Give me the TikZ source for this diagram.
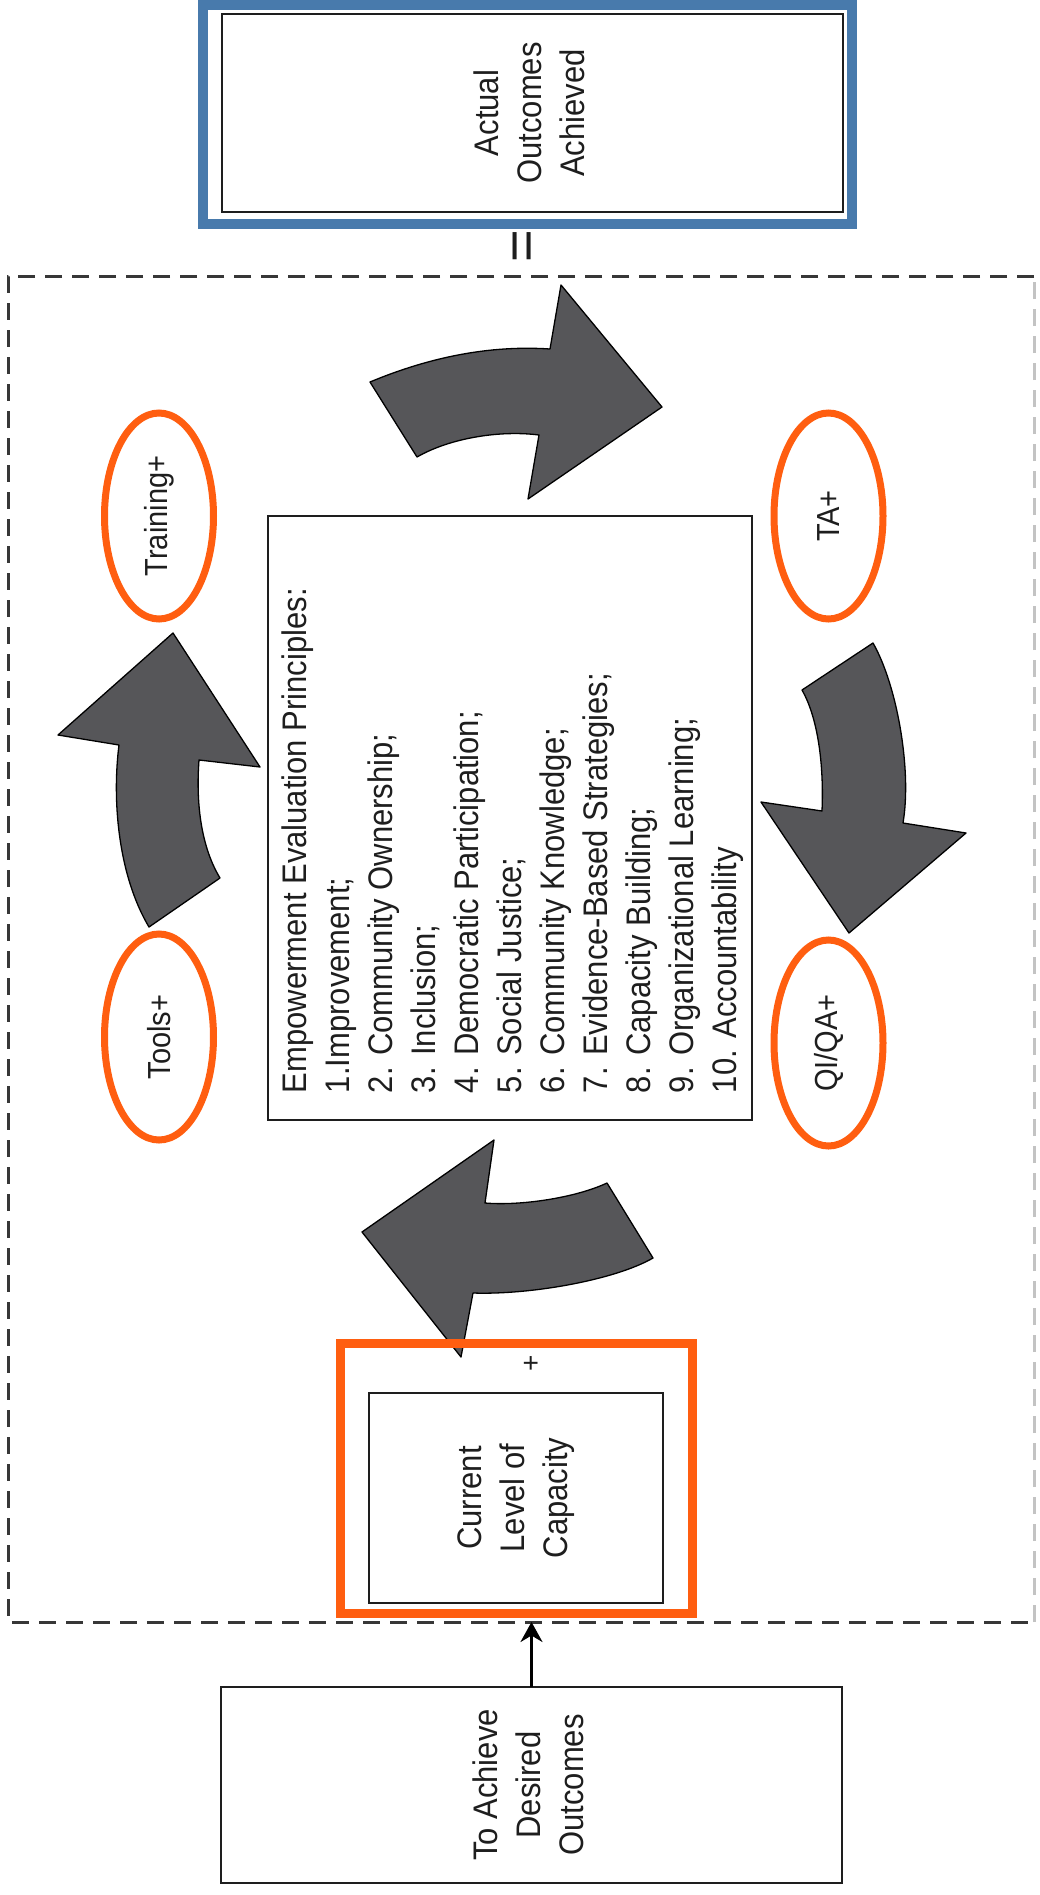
\documentclass[tikz,border=0pt]{standalone}
\usepackage{fontspec}
\setmainfont{Liberation Sans}
\usetikzlibrary{shapes.geometric,arrows.meta}
\definecolor{hlorange}{RGB}{255,94,16}
\definecolor{hlblue}{RGB}{72,122,172}
\definecolor{arrowgray}{RGB}{86,86,89}
\definecolor{inkc}{RGB}{30,30,30}
\definecolor{dashc}{RGB}{55,55,55}
\newcommand{\rotc}[1]{\rotatebox{90}{\scalebox{1}[1.1]{\begin{tabular}{@{}c@{}}#1\end{tabular}}}}
\newcommand{\rotl}[1]{\rotatebox{90}{\scalebox{1}[1.1]{\begin{tabular}{@{}l@{}}#1\end{tabular}}}}
\newcommand{\rots}[1]{\rotatebox{90}{\scalebox{1}[1.1]{#1}}}
\begin{document}
\begin{tikzpicture}[x=1pt,y=-1pt,
  every node/.style={inner sep=0pt, outer sep=0pt, text=inkc},
  txt/.style={font=\fontsize{31}{39.1}\selectfont},
  box/.style={draw=inkc, line width=2.2pt, rectangle, fill=white},
  oval/.style={draw=hlorange, line width=7pt, ellipse, minimum width=109pt, minimum height=206pt, font=\fontsize{29}{36}\selectfont},
  bigarrow/.style={fill=arrowgray, draw=black, line width=1.3pt, line join=round},
  dashline/.style={draw=dashc, line width=3pt, dash pattern=on 17pt off 10pt},
]
\useasboundingbox (0,0) rectangle (1039,1895);
\fill[white] (0,0) rectangle (1039,1895);

% dashed region
\node[minimum width=1026pt, minimum height=1346pt] (region) at (521,949) {};
\draw[dashline] (region.north east) -- (region.north west) -- (region.south west) -- (region.south east);
\draw[dashline, draw=dashc!30] (region.south east) -- (region.north east);

% top box
\node[box, minimum width=621pt, minimum height=198pt, txt] (actual) at (532.5,113) {\rotc{Actual\\Outcomes\\Achieved}};
\node[draw=hlblue, line width=10pt, minimum width=649pt, minimum height=219pt] (actualhl) at (527.5,114.5) {};
\node[font=\fontsize{56}{60}\selectfont] (equal) at (527,246) {\rotatebox{90}{=}};

% curved arrows
\draw[bigarrow] (370,382) .. controls (430,357) and (490,345) .. (550,349) -- (561,285) -- (662,407) -- (528,499) -- (539,435) .. controls (500,430) and (450,438) .. (417,457) -- cycle;
\draw[bigarrow] (173,633) -- (260,767) -- (199,760) .. controls (196,800) and (200,845) .. (220,878) -- (149,927) .. controls (118,875) and (112,800) .. (119,745) -- (58,735) -- cycle;
\draw[bigarrow] (802,690) -- (873,643) .. controls (897,685) and (912,770) .. (903,823) -- (966,833) -- (849,933) -- (761,802) -- (822,811) .. controls (824,765) and (818,718) .. (802,690) -- cycle;
\draw[bigarrow] (362,1232) -- (494,1140) -- (485,1203) .. controls (520,1206) and (575,1198) .. (607,1183) -- (653,1258) .. controls (615,1280) and (530,1295) .. (473,1293) -- (461,1357) -- cycle;

% ellipses
\node[oval] (training) at (159,516) {\rots{Training+}};
\node[oval] (tools) at (159,1037) {\rots{Tools+}};
\node[oval] (ta) at (828.5,516) {\rots{TA+}};
\node[oval] (qiqa) at (828.5,1043) {\rots{QI/QA+}};

% central box
\node[box, minimum width=484pt, minimum height=604pt] (principles) at (510,818) {};
\node[txt, anchor=south west] (principlestext) at (276,1093) {\rotl{Empowerment Evaluation Principles:\\1.Improvement;\\2. Community Ownership;\\3. Inclusion;\\4. Democratic Participation;\\5. Social Justice;\\6. Community Knowledge;\\7. Evidence-Based Strategies;\\8. Capacity Building;\\9. Organizational Learning;\\10. Accountability}};

% capacity
\node[box, minimum width=294pt, minimum height=210pt, txt] (capacity) at (516,1498) {\rotc{Current\\Level of\\Capacity}};
\node[draw=hlorange, line width=9pt, minimum width=352pt, minimum height=270pt] (capacityhl) at (516.5,1478.5) {};
\node[font=\fontsize{28}{30}\selectfont] (plus) at (532,1363) {\rotatebox{90}{+}};

% desired outcomes
\node[box, minimum width=621pt, minimum height=196pt, txt] (desired) at (531.5,1785) {\rotc{To Achieve\\Desired\\Outcomes}};
\draw[line width=3pt, draw=black, -{Stealth[length=20pt, width=22pt]}] (desired.north) -- (desired.north |- region.south);
\end{tikzpicture}
\end{document}
